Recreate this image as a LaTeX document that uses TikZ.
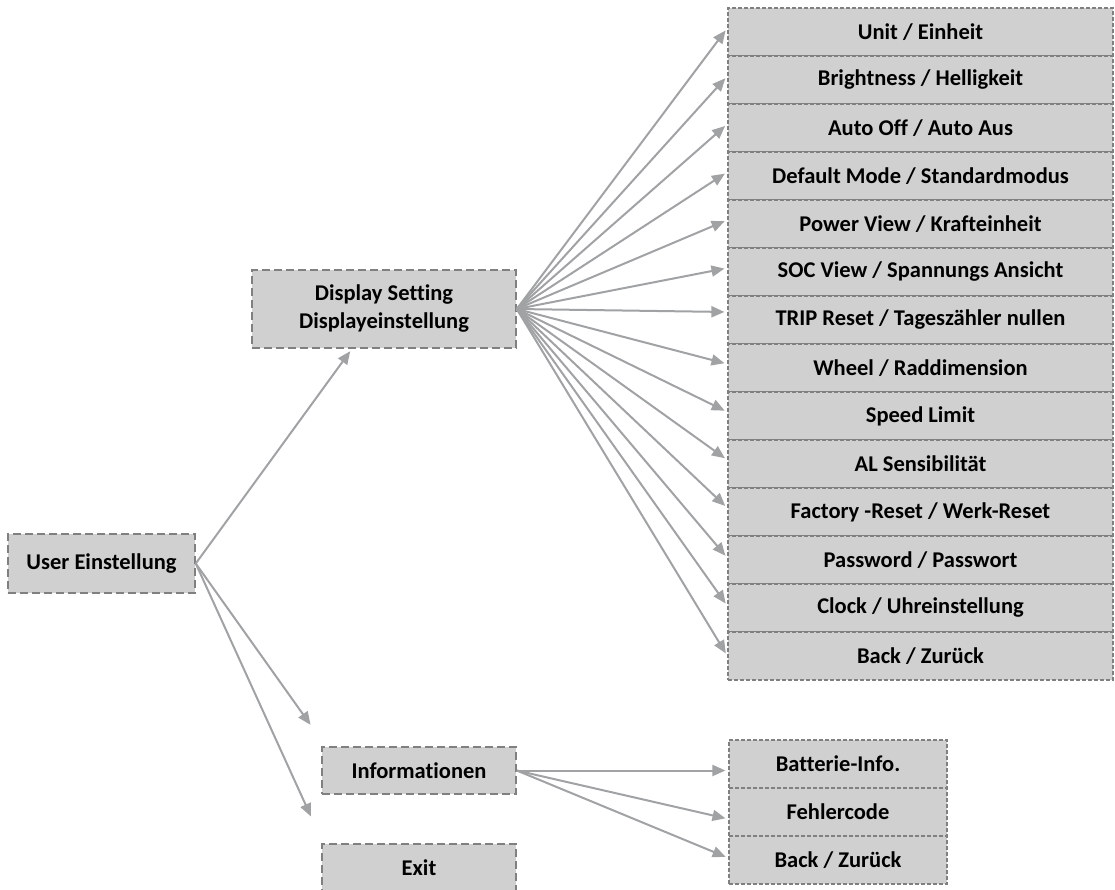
\documentclass[tikz,border=0pt]{standalone}
\usepackage{fontspec}
\setmainfont[Ligatures={NoCommon}]{Carlito}
\usetikzlibrary{arrows.meta}

\definecolor{boxfill}{RGB}{208,208,208}
\definecolor{boxline}{RGB}{128,128,128}
\definecolor{linkgray}{RGB}{160,162,164}

\tikzset{
  menubox/.style={draw=boxline, fill=boxfill, line width=1.5pt, dash pattern=on 8pt off 4pt,
    inner sep=0pt, align=center, font=\bfseries\fontsize{22.5}{28}\selectfont},
  itembox/.style={draw=boxline, fill=boxfill, line width=1.2pt, dash pattern=on 4pt off 2pt,
    inner sep=0pt, minimum height=48pt, font=\bfseries\fontsize{22.5}{28}\selectfont},
  link/.style={draw=linkgray, line width=2pt, shorten >=3pt, -{Triangle[length=13pt,width=11pt]}}
}

\begin{document}
\begin{tikzpicture}[x=1pt,y=-1pt]
\useasboundingbox (0,0) rectangle (1115,890);
\clip (0,0) rectangle (1115,890);

% main menu
\node[menubox, minimum width=187pt, minimum height=59pt] (user) at (101.5,563.5) {User Einstellung};
\node[menubox, minimum width=264pt, minimum height=78pt] (disp) at (384,309) {Display Setting\\Displayeinstellung};
\node[menubox, minimum width=194pt, minimum height=47pt] (info) at (419,770.5) {Informationen};
\node[menubox, minimum width=194pt, minimum height=47pt] (exit) at (419,867.5) {Exit};

% display settings
\node[itembox, minimum width=385pt] (unit) at (920.5,32) {Unit / Einheit};
\node[itembox, minimum width=385pt] (bright) at (920.5,80) {Brightness / Helligkeit};
\node[itembox, minimum width=385pt] (autooff) at (920.5,128) {Auto Off / Auto Aus};
\node[itembox, minimum width=385pt] (mode) at (920.5,176) {Default Mode / Standardmodus};
\node[itembox, minimum width=385pt] (power) at (920.5,224) {Power View / Krafteinheit};
\node[itembox, minimum width=385pt] (soc) at (920.5,272) {SOC View / Spannungs Ansicht};
\node[itembox, minimum width=385pt] (trip) at (920.5,320) {TRIP Reset / Tageszähler nullen};
\node[itembox, minimum width=385pt] (wheel) at (920.5,368) {Wheel / Raddimension};
\node[itembox, minimum width=385pt] (speed) at (920.5,416) {Speed Limit};
\node[itembox, minimum width=385pt] (alsens) at (920.5,464) {AL Sensibilität};
\node[itembox, minimum width=385pt] (factory) at (920.5,512) {Factory -Reset / Werk-Reset};
\node[itembox, minimum width=385pt] (passwd) at (920.5,560) {Password / Passwort};
\node[itembox, minimum width=385pt] (clock) at (920.5,608) {Clock / Uhreinstellung};
\node[itembox, minimum width=385pt] (back) at (920.5,656) {Back / Zurück};

% informationen
\node[itembox, minimum width=218pt] (battery) at (838,764) {Batterie-Info.};
\node[itembox, minimum width=218pt] (errcode) at (838,812) {Fehlercode};
\node[itembox, minimum width=218pt] (infoback) at (838,860) {Back / Zurück};

\draw[link] (user.east) -- ([xshift=-32pt]disp.south);
\draw[link] (user.east) -- ([xshift=-9pt,yshift=19pt]info.north west);
\draw[link] (user.east) -- ([xshift=-9pt,yshift=24pt]exit.north west);

\draw[link] (disp.east) -- ([yshift=4pt]unit.west);
\draw[link] (disp.east) -- ([yshift=4pt]bright.west);
\draw[link] (disp.east) -- ([yshift=4pt]autooff.west);
\draw[link] (disp.east) -- ([yshift=4pt]mode.west);
\draw[link] (disp.east) -- ([yshift=4pt]power.west);
\draw[link] (disp.east) -- ([yshift=4pt]soc.west);
\draw[link] (disp.east) -- ([yshift=8pt]trip.west);
\draw[link] (disp.east) -- ([yshift=4pt]wheel.west);
\draw[link] (disp.east) -- ([yshift=4pt]speed.west);
\draw[link] (disp.east) -- ([yshift=4pt]alsens.west);
\draw[link] (disp.east) -- ([yshift=4pt]factory.west);
\draw[link] (disp.east) -- ([yshift=2pt]passwd.west);
\draw[link] (disp.east) -- ([yshift=2pt]clock.west);
\draw[link] (disp.east) -- (back.west);

\draw[link] (info.east) -- (info.east -| battery.west);
\draw[link] (info.east) -- ([yshift=-7pt]errcode.west);
\draw[link] (info.east) -- ([yshift=2pt]infoback.west);
\end{tikzpicture}
\end{document}
